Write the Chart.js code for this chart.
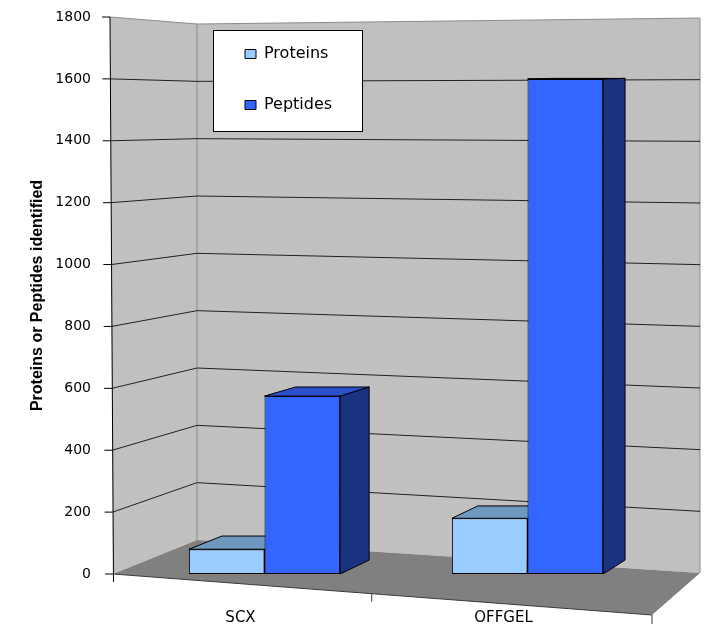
<!DOCTYPE html>
<html>
<head>
<meta charset="utf-8">
<script src="https://cdn.jsdelivr.net/npm/chart.js@4.4.1/dist/chart.umd.min.js"></script>
<style>
html, body { margin: 0; padding: 0; background: #ffffff; }
#c { display: block; }
</style>
</head>
<body>
<canvas id="c" width="705" height="640"></canvas>
<script>
// ---- data ----
const categories = ['SCX', 'OFFGEL'];
const seriesNames = ['Proteins', 'Peptides'];
const proteins = [80, 180];
const peptides = [575, 1600];
const yMin = 0;
const yMax = 1800;
const yStep = 200;
const axisTitle = 'Proteins or Peptides identified';

// ---- styles ----
const faceColors = [
  { front: '#99ccff', top: '#7099c0', side: '#4d6680' },
  { front: '#3366ff', top: '#2a50cc', side: '#1a3380' }
];
const plotTop = 17;

function strokeLine(ctx, x1, y1, x2, y2) {
  ctx.beginPath();
  ctx.moveTo(x1, y1);
  ctx.lineTo(x2, y2);
  ctx.stroke();
}
function fillPoly(ctx, pts, fill, stroke) {
  ctx.beginPath();
  ctx.moveTo(pts[0].x, pts[0].y);
  for (let i = 1; i < pts.length; i++) ctx.lineTo(pts[i].x, pts[i].y);
  ctx.closePath();
  if (fill) { ctx.fillStyle = fill; ctx.fill(); }
  if (stroke) { ctx.strokeStyle = stroke; ctx.stroke(); }
}

const scene3d = {
  id: 'scene3d',
  afterLayout(chart) {
    const ca = chart.chartArea, ys = chart.scales.y;
    if (ca.top !== plotTop) {
      ca.top = plotTop;
      ca.height = ca.bottom - ca.top;
      ys.top = plotTop;
      ys.height = ys.bottom - ys.top;
      ys.configure();
    }
    const lg = chart.legend;
    if (!lg) return;
    lg.left = ca.left + 77;
    lg.top = ca.top - 6;
    lg.width = 200;
    lg.height = 160;
    lg.right = lg.left + lg.width;
    lg.bottom = lg.top + lg.height;
  },
  beforeDraw(chart) {
    const { ctx, chartArea: ca, scales } = chart;
    const y = scales.y;
    const L = ca.left, R = ca.right, T = ca.top, B = ca.bottom;
    const fx = L - 20;
    const bLx = L + 64, bRx = R + 41;
    const fR = { x: R - 7, y: B + 41 };
    const yBL = yf => (B - 34) - (B - yf) * ((B - 34) - (T + 7)) / (B - T);
    const yBR = yf => (B - 1) - (B - yf) * ((B - 1) - (T + 1)) / (B - T);
    const xF = yf => fx - 3 * (B - yf) / (B - T);

    ctx.save();
    ctx.lineWidth = 1;
    // left wall
    fillPoly(ctx, [{x: xF(T), y: T}, {x: bLx, y: yBL(T)}, {x: bLx, y: yBL(B)}, {x: fx, y: B}], '#c0c0c0');
    // back wall
    fillPoly(ctx, [{x: bLx, y: yBL(T)}, {x: bRx, y: yBR(T)}, {x: bRx, y: yBR(B)}, {x: bLx, y: yBL(B)}], '#c0c0c0');
    // floor
    fillPoly(ctx, [{x: fx, y: B}, {x: bLx, y: yBL(B)}, {x: bRx, y: yBR(B)}, {x: fR.x, y: fR.y}], '#808080');

    // wall edges
    ctx.strokeStyle = '#8c8c8c';
    strokeLine(ctx, bLx, yBL(T), bLx, yBL(B));
    strokeLine(ctx, bRx, yBR(T), bRx, yBR(B));
    strokeLine(ctx, xF(T), T, bLx, yBL(T));
    strokeLine(ctx, bLx, yBL(T), bRx, yBR(T));

    // gridlines on walls
    ctx.strokeStyle = '#202020';
    y.ticks.forEach(t => {
      if (t.value <= yMin || t.value >= yMax) return;
      const yf = y.getPixelForValue(t.value);
      strokeLine(ctx, xF(yf), yf, bLx, yBL(yf));
      strokeLine(ctx, bLx, yBL(yf), bRx, yBR(yf));
    });

    // front value axis with tick marks
    ctx.strokeStyle = '#000000';
    strokeLine(ctx, xF(T), T, fx + 0.5, B + 8);
    y.ticks.forEach(t => {
      const yf = y.getPixelForValue(t.value);
      strokeLine(ctx, xF(yf) - 8, yf, xF(yf), yf);
    });

    // floor front edge and category ticks
    ctx.strokeStyle = '#3a3a3a';
    strokeLine(ctx, fx, B, fR.x, fR.y);
    const n = categories.length;
    for (let i = 1; i < n; i++) {
      const f = i / n - 0.02;
      const px = fx + (fR.x - fx) * f, py = B + (fR.y - B) * f;
      strokeLine(ctx, px, py, px, py + 8);
    }
    strokeLine(ctx, fR.x, fR.y, fR.x, fR.y + 9);

    // legend box
    ctx.fillStyle = '#ffffff';
    ctx.fillRect(L + 80, T + 13, 149, 101);
    ctx.strokeStyle = '#000000';
    ctx.strokeRect(L + 80.5, T + 13.5, 149, 101);
    ctx.restore();
  },
  beforeDatasetsDraw(chart) {
    const { ctx, chartArea: ca } = chart;
    const vp = { x: ca.left + 1282, y: ca.top + 43 };
    const k = 0.027;
    const back = p => ({ x: p.x + k * (vp.x - p.x), y: p.y + k * (vp.y - p.y) });
    ctx.save();
    ctx.lineWidth = 1;
    ctx.lineJoin = 'round';
    chart.data.datasets.forEach((ds, di) => {
      const meta = chart.getDatasetMeta(di);
      if (meta.hidden) return;
      meta.data.forEach(bar => {
        const { x, y, base, width } = bar.getProps(['x', 'y', 'base', 'width'], true);
        const l = x - width / 2, r = x + width / 2;
        const fl = { x: l, y: y }, fr = { x: r, y: y }, br = { x: r, y: base };
        const bfl = back(fl), bfr = back(fr), bbr = back(br);
        fillPoly(ctx, [fr, bfr, bbr, br], faceColors[di].side, '#000000');
        fillPoly(ctx, [fl, fr, bfr, bfl], faceColors[di].top, '#000000');
      });
    });
    ctx.restore();
  }
};

Chart.defaults.font.family = 'DejaVu Sans';
Chart.defaults.color = '#000000';

new Chart(document.getElementById('c'), {
  type: 'bar',
  data: {
    labels: categories,
    datasets: [
      {
        label: seriesNames[0],
        data: proteins,
        backgroundColor: faceColors[0].front,
        borderColor: '#000000',
        borderWidth: 1,
        borderSkipped: false
      },
      {
        label: seriesNames[1],
        data: peptides,
        backgroundColor: faceColors[1].front,
        borderColor: '#000000',
        borderWidth: 1,
        borderSkipped: false
      }
    ]
  },
  options: {
    responsive: false,
    devicePixelRatio: 1,
    animation: false,
    layout: { padding: { top: 17, right: 46, bottom: 13, left: 0 } },
    datasets: { bar: { categoryPercentage: 0.575, barPercentage: 1.0 } },
    scales: {
      x: {
        type: 'category',
        grid: { display: false },
        border: { display: false },
        ticks: {
          font: { family: 'DejaVu Sans', size: 15 },
          color: '#000000',
          padding: 27,
          labelOffset: -24,
          maxRotation: 0
        },
        afterFit(scale) { scale.height = 53; }
      },
      y: {
        min: yMin,
        max: yMax,
        grid: { display: false },
        border: { display: false },
        ticks: {
          stepSize: yStep,
          font: { family: 'DejaVu Sans', size: 14 },
          color: '#000000',
          padding: 34,
          callback: v => String(v)
        },
        title: {
          display: true,
          text: axisTitle,
          font: { family: 'Liberation Sans', size: 16, weight: 'bold' },
          color: '#000000',
          padding: { top: 28, bottom: 0 }
        },
        afterFit(scale) { scale.width = 133; }
      }
    },
    plugins: {
      legend: {
        position: 'chartArea',
        fullSize: false,
        align: 'start',
        labels: {
          boxWidth: 11,
          boxHeight: 9,
          padding: 35,
          font: { family: 'DejaVu Sans', size: 16 },
          color: '#000000'
        }
      },
      tooltip: { enabled: false },
      title: { display: false }
    }
  },
  plugins: [scene3d]
});
</script>
</body>
</html>
